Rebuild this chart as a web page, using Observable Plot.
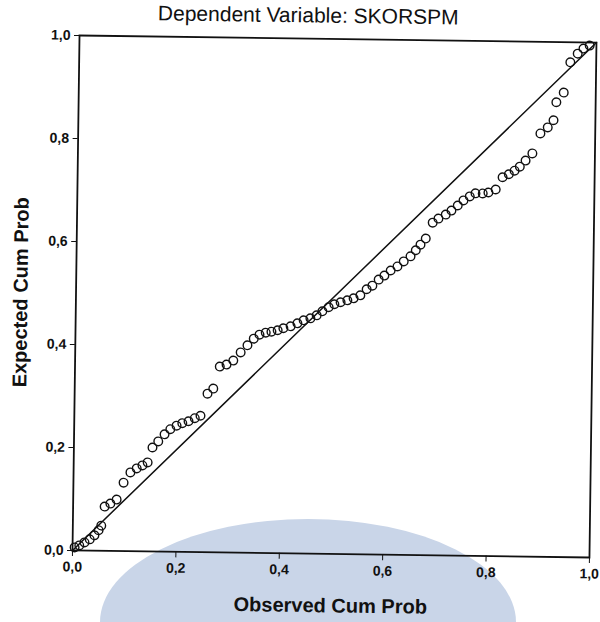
<!DOCTYPE html>
<html>
<head>
<meta charset="utf-8">
<script src="https://cdn.jsdelivr.net/npm/d3@7"></script>
<script src="https://cdn.jsdelivr.net/npm/@observablehq/plot@0.6"></script>
<style>
  html, body { margin: 0; padding: 0; background: #fff; }
  #wrap { position: relative; width: 600px; height: 622px; overflow: hidden; }
  #wm { position: absolute; left: 0; top: 0; }
  #chart { position: absolute; left: 0; top: 0; width: 600px; height: 622px;
           transform-origin: 330px 292px; transform: translate(3.5px, 3.5px) rotate(0.78deg); }
</style>
</head>
<body>
<div id="wrap">
  <svg id="wm" width="600" height="622"><ellipse cx="308" cy="622" rx="208" ry="103" fill="#c9d5e8"/></svg>
  <div id="chart"></div>
</div>
<script>
const title = "Dependent Variable: SKORSPM";
const xLabel = "Observed Cum Prob";
const yLabel = "Expected Cum Prob";
const tickValues = [0, 0.2, 0.4, 0.6, 0.8, 1.0];
const diagonal = [0, 1];

const observed = [0.004,0.013,0.023,0.033,0.042,0.050,0.055,0.061,0.072,0.084,
  0.097,0.110,0.122,0.133,0.143,0.152,0.163,0.175,0.186,0.198,
  0.209,0.221,0.233,0.244,0.257,0.268,0.280,0.293,0.306,0.320,
  0.333,0.345,0.356,0.368,0.379,0.391,0.402,0.416,0.429,0.441,
  0.454,0.466,0.477,0.489,0.500,0.512,0.525,0.537,0.550,0.562,
  0.573,0.585,0.596,0.608,0.621,0.633,0.646,0.656,0.665,0.675,
  0.688,0.699,0.713,0.724,0.736,0.747,0.759,0.770,0.784,0.795,
  0.809,0.822,0.834,0.845,0.855,0.866,0.879,0.894,0.908,0.919,
  0.924,0.938,0.950,0.964,0.975,0.987];
const expected = [0.006,0.010,0.016,0.022,0.030,0.040,0.049,0.086,0.092,0.100,
  0.133,0.153,0.161,0.167,0.173,0.202,0.214,0.228,0.238,0.245,
  0.250,0.254,0.260,0.265,0.308,0.318,0.361,0.365,0.373,0.389,
  0.403,0.416,0.424,0.428,0.430,0.433,0.437,0.441,0.447,0.453,
  0.457,0.463,0.471,0.479,0.485,0.489,0.493,0.497,0.503,0.515,
  0.522,0.534,0.542,0.552,0.560,0.570,0.580,0.592,0.603,0.615,
  0.646,0.654,0.662,0.670,0.680,0.690,0.698,0.704,0.704,0.706,
  0.712,0.736,0.742,0.749,0.757,0.769,0.783,0.822,0.834,0.848,
  0.883,0.902,0.961,0.978,0.988,0.994];

const points = observed.map((o, i) => ({x: o, y: expected[i]}));
const fmt = d => d.toFixed(1).replace(".", ",");
const ink = "#111";

const chart = Plot.plot({
  width: 600,
  height: 622,
  marginLeft: 72,
  marginRight: 11,
  marginTop: 35,
  marginBottom: 72,
  style: {background: "transparent", fontFamily: "'Liberation Sans', Arial, sans-serif", fontSize: "14px", color: ink},
  x: {domain: [0, 1]},
  y: {domain: [0, 1]},
  marks: [
    Plot.line(diagonal, {x: d => d, y: d => d, stroke: ink, strokeWidth: 1.5}),
    Plot.dot(points, {x: "x", y: "y", r: 4.3, stroke: ink, strokeWidth: 1.4, fill: "none"}),
    Plot.frame({stroke: ink, strokeWidth: 1.8}),
    Plot.axisX({ticks: tickValues, tickFormat: fmt, tickSize: 6, tickPadding: 5, label: null, stroke: ink, fontWeight: "bold"}),
    Plot.axisY({ticks: tickValues, tickFormat: fmt, tickSize: 5, tickPadding: 4, label: null, stroke: ink, fontWeight: "bold"}),
    Plot.text([title], {frameAnchor: "top", lineAnchor: "middle", dy: -23, dx: -30, text: d => d, fontSize: 21, fill: ink}),
    Plot.text([xLabel], {frameAnchor: "bottom", lineAnchor: "middle", dy: 52, dx: 0, text: d => d, fontSize: 20, fontWeight: "bold", fill: ink}),
    Plot.text([yLabel], {frameAnchor: "left", textAnchor: "middle", lineAnchor: "middle", dx: -55, rotate: -90, text: d => d, fontSize: 20, fontWeight: "bold", fill: ink})
  ]
});
document.getElementById("chart").appendChild(chart);
</script>
</body>
</html>
